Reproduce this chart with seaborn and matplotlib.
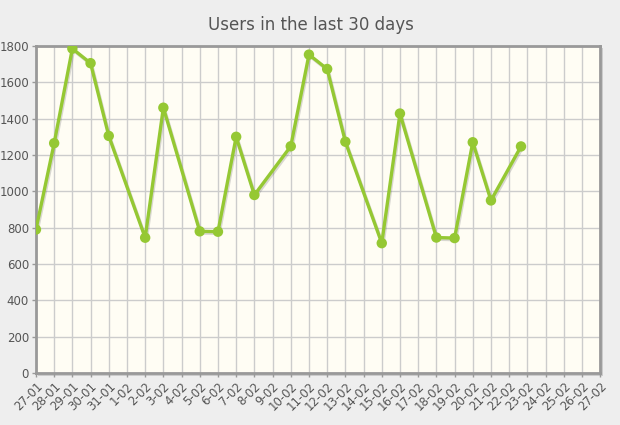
import matplotlib
matplotlib.use('Agg')
import matplotlib.pyplot as plt
import matplotlib.patheffects as pe
import seaborn as sns
import pandas as pd

# Datos
dias = [0, 1, 2, 3, 4, 6, 7, 9, 10, 11, 12, 14, 15, 16, 17, 19, 20, 22, 23, 24, 25, 26.65]
usuarios = [790, 1265, 1785, 1705, 1305, 745, 1460, 780, 778, 1300, 980, 1248, 1752,
            1673, 1273, 715, 1428, 746, 743, 1270, 950, 1247]
etiquetas = ['27-01', '28-01', '29-01', '30-01', '31-01'] + [f'{d}-02' for d in range(1, 28)]
y_ticks = [0, 200, 400, 600, 800, 1000, 1200, 1400, 1600, 1800]

sns.set_style('white')
plt.rcParams['font.family'] = ['DejaVu Sans']

df = pd.DataFrame({'dia': dias, 'usuarios': usuarios})

fig = plt.figure(figsize=(6.2, 4.25), dpi=100, facecolor='#eeeeee')
ax = fig.add_axes([0.058, 0.122, 0.910, 0.770])
ax.set_facecolor('#fffdf4')

# sombra del marco
sombra = plt.Rectangle((0.058 + 0.004, 0.122 - 0.006), 0.910, 0.770, transform=fig.transFigure,
                       facecolor='#b5b5b5', edgecolor='none', zorder=-1, alpha=0.6)
fig.patches.append(sombra)

verde = '#95c833'
sns.lineplot(data=df, x='dia', y='usuarios', ax=ax, color=verde, lw=2.4,
             marker='o', markersize=7.5, markeredgewidth=0, zorder=5,
             path_effects=[pe.SimpleLineShadow(offset=(0.8, -1.2), shadow_color='#666666', alpha=0.25),
                           pe.Normal()])

ax.set_xlim(0, len(etiquetas) - 1)
ax.set_ylim(0, 1800)
ax.set_xticks(range(len(etiquetas)))
ax.set_xticklabels(etiquetas, rotation=45, ha='right', rotation_mode='anchor',
                   fontsize=8.5, color='#555555')
ax.set_yticks(y_ticks)
ax.set_yticklabels([str(v) for v in y_ticks], fontsize=8.5, color='#555555')
ax.tick_params(axis='both', length=3, width=1, color='#999999', pad=2, direction='out')
ax.tick_params(axis='both', bottom=True, left=True)

ax.grid(True, color='#cccccc', lw=1)
ax.set_axisbelow(True)
for s in ax.spines.values():
    s.set_color('#999999')
    s.set_linewidth(2)

ax.set_xlabel('')
ax.set_ylabel('')
fig.text(0.502, 0.94, 'Users in the last 30 days', ha='center', va='center',
         fontsize=12, color='#555555')

fig.savefig('out.png', dpi=100, facecolor=fig.get_facecolor())
